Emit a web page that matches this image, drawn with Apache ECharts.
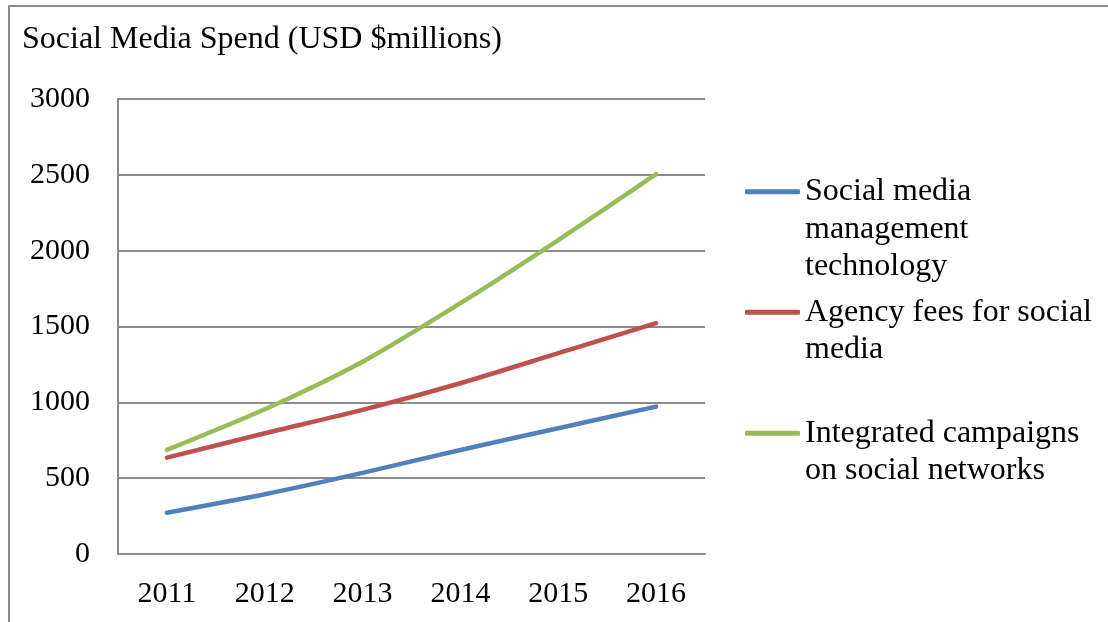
<!DOCTYPE html>
<html>
<head>
<meta charset="utf-8">
<script src="https://cdn.jsdelivr.net/npm/echarts@6/dist/echarts.min.js"></script>
<style>
  html, body { margin: 0; padding: 0; background: #fff; }
  #wrap { position: relative; width: 1108px; height: 622px; overflow: hidden; background: #fff; }
  #frame { position: absolute; left: 8px; top: 5px; width: 1200px; height: 700px;
           border-top: 2px solid #8c8c8c; border-left: 2px solid #8c8c8c; box-sizing: border-box; }
  #chart { position: absolute; left: 0; top: 0; width: 1108px; height: 622px; }
</style>
</head>
<body>
<div id="wrap">
  <div id="frame"></div>
  <div id="chart"></div>
</div>
<script>
const titleText = 'Social Media Spend (USD $millions)';
const years = ['2011', '2012', '2013', '2014', '2015', '2016'];
const seriesNames = [
  'Social media management technology',
  'Agency fees for social media',
  'Integrated campaigns on social networks'
];
const legendLines = [
  ['Social media', 'management', 'technology'],
  ['Agency fees for social', 'media'],
  ['Integrated campaigns', 'on social networks']
];
const managementTech = [272, 394, 535, 686, 829, 972];
const agencyFees = [635, 796, 950, 1126, 1324, 1522];
const integratedCampaigns = [686, 954, 1268, 1654, 2070, 2505];
const colors = ['#4F81BD', '#C0504D', '#9BBB59'];

const FONT = '"Liberation Serif", "Times New Roman", serif';
const LH = 37.5;
const legendTops = [98, 256, 377];

const chart = echarts.init(document.getElementById('chart'), null, { renderer: 'canvas' });

// Blank lines before the label keep its first line level with the icon.
const legendText = (lines) => new Array(lines.length - 1).fill('').concat(lines).join('\n');

const legends = seriesNames.map((name, i) => ({
  orient: 'vertical',
  left: 745,
  top: legendTops[i],
  padding: 0,
  itemWidth: 55,
  itemHeight: 5,
  itemGap: 0,
  icon: 'roundRect',
  data: [name],
  formatter: () => legendText(legendLines[i]),
  selectedMode: false,
  itemStyle: { color: colors[i], borderWidth: 0 },
  textStyle: {
    fontFamily: FONT,
    fontSize: 32,
    color: '#000',
    lineHeight: LH
  }
}));

const data = [managementTech, agencyFees, integratedCampaigns];

chart.setOption({
  animation: false,
  backgroundColor: 'transparent',
  title: {
    text: titleText,
    left: 22,
    top: 24,
    padding: 0,
    textStyle: { fontFamily: FONT, fontSize: 32, fontWeight: 'normal', color: '#000' }
  },
  legend: legends,
  grid: { left: 118, right: 403, top: 99, bottom: 68, containLabel: false },
  xAxis: {
    type: 'category',
    data: years,
    boundaryGap: true,
    axisTick: { show: false },
    axisLine: { lineStyle: { color: '#8c8c8c', width: 2 } },
    axisLabel: { fontFamily: FONT, fontSize: 30, color: '#000', margin: 25 }
  },
  yAxis: {
    type: 'value',
    min: 0,
    max: 3000,
    interval: 500,
    axisLine: { show: true, lineStyle: { color: '#8c8c8c', width: 2 } },
    axisTick: { show: false },
    splitLine: { lineStyle: { color: '#8c8c8c', width: 2 } },
    axisLabel: { fontFamily: FONT, fontSize: 30, color: '#000', margin: 28,
                 formatter: (v) => String(v) }
  },
  series: seriesNames.map((name, i) => ({
    name: name,
    type: 'line',
    data: data[i],
    smooth: 0.25,
    symbol: 'none',
    color: colors[i],
    lineStyle: { width: 4.5, color: colors[i], cap: 'round', join: 'round' }
  }))
});
</script>
</body>
</html>
